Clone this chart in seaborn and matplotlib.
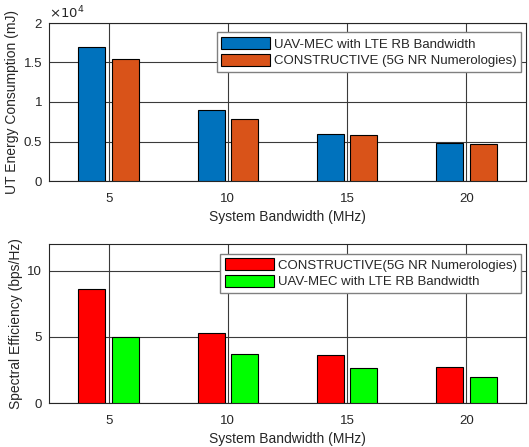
import pandas as pd
import seaborn as sns
import matplotlib.pyplot as plt
from matplotlib.ticker import FuncFormatter

# values
bandwidth = ["5", "10", "15", "20"]
energy_uav = [17000, 9000, 6000, 4750]
energy_constructive = [15500, 7900, 5800, 4650]
se_constructive = [8.6, 5.3, 3.6, 2.75]
se_uav = [5.0, 3.7, 2.65, 2.0]

lab_uav = "UAV-MEC with LTE RB Bandwidth"
lab_con1 = "CONSTRUCTIVE (5G NR Numerologies)"
lab_con2 = "CONSTRUCTIVE(5G NR Numerologies)"

energy_df = pd.DataFrame({
    "bw": bandwidth * 2,
    "val": energy_uav + energy_constructive,
    "scheme": [lab_uav] * 4 + [lab_con1] * 4,
})
se_df = pd.DataFrame({
    "bw": bandwidth * 2,
    "val": se_constructive + se_uav,
    "scheme": [lab_con2] * 4 + [lab_uav] * 4,
})

sns.set_style("white")
plt.rcParams["font.family"] = ["Liberation Sans", "DejaVu Sans"]
plt.rcParams["font.size"] = 9.5

fig = plt.figure(figsize=(5.29, 4.47), dpi=100)
W, H = 529, 447
ax1 = fig.add_axes([49 / W, 1 - 181 / H, 477 / W, 158 / H])
ax2 = fig.add_axes([49 / W, 1 - 403 / H, 477 / W, 159 / H])


def draw(ax, df, palette, ylim, yticks, ylabel):
    sns.barplot(data=df, x="bw", y="val", hue="scheme", palette=palette,
                saturation=1, width=0.56, gap=0.19, edgecolor="black",
                linewidth=0.8, errorbar=None, ax=ax, zorder=3)
    ax.set_xlim(-0.5, 3.5)
    ax.set_ylim(*ylim)
    ax.set_yticks(yticks)
    ax.grid(True, color="#3a3a3a", linewidth=0.8, zorder=0)
    ax.set_axisbelow(True)
    ax.set_xlabel("System Bandwidth (MHz)", fontsize=10, color="#262626", labelpad=3)
    ax.set_ylabel(ylabel, fontsize=10, color="#262626", labelpad=3)
    ax.tick_params(direction="in", length=3, width=0.6, labelsize=9.5,
                   colors="#262626", pad=5)
    ax.tick_params(axis="x", pad=9)
    for s in ax.spines.values():
        s.set_color("#262626")
        s.set_linewidth(0.8)
    leg = ax.legend(loc="upper right", bbox_to_anchor=(0.99, 0.94), fontsize=9.5,
                    frameon=True, fancybox=False, edgecolor="#808080",
                    framealpha=1, handlelength=3.7, handleheight=1.0,
                    handletextpad=0.3, labelspacing=0.25, borderpad=0.35,
                    borderaxespad=0)
    leg.get_frame().set_linewidth(1.0)
    for h in leg.legend_handles:
        h.set_edgecolor("black")
        h.set_linewidth(0.8)


draw(ax1, energy_df, ["#0072BD", "#D95319"], (0, 20000),
     [0, 5000, 10000, 15000, 20000], "UT Energy Consumption (mJ)")
ax1.yaxis.set_major_formatter(FuncFormatter(lambda v, p: f"{v / 1e4:g}"))
ax1.text(0.0, 1.01, r"$\times10^4$", transform=ax1.transAxes, fontsize=9.5,
         color="#262626", ha="left", va="bottom")

draw(ax2, se_df, ["#FF0000", "#00FF00"], (0, 12), [0, 5, 10],
     "Spectral Efficiency (bps/Hz)")

fig.savefig("out.png", dpi=100)
